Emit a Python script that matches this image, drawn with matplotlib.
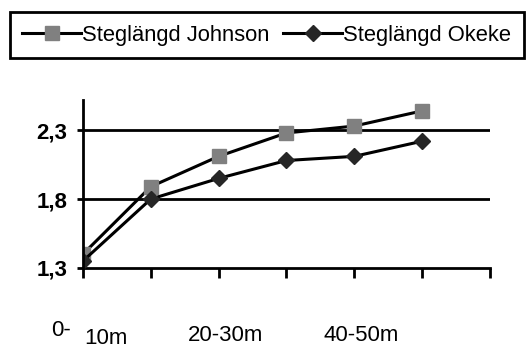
import matplotlib
matplotlib.use("Agg")
import matplotlib.pyplot as plt
import matplotlib.transforms as mtransforms

plt.rcParams['font.family'] = ['Liberation Sans', 'DejaVu Sans']

# data
positions = [0, 1, 2, 3, 4, 5]
johnson = [1.40, 1.89, 2.11, 2.28, 2.33, 2.44]
okeke = [1.35, 1.80, 1.95, 2.08, 2.11, 2.22]
y_ticks = [1.3, 1.8, 2.3]
y_labels = ['1,3', '1,8', '2,3']
x_label_pos = [2, 4]
x_labels = ['20-30m', '40-50m']
first_label = ('0-', '10m')

fig = plt.figure(figsize=(5.28, 3.48), dpi=100)
ax = fig.add_axes([0.157, 0.230, 0.771, 0.483])

ax.plot(positions, johnson, color='black', linewidth=2.2, marker='s', markersize=10.5,
        markerfacecolor='#808080', markeredgecolor='#808080', label='Steglängd Johnson', zorder=3)
ax.plot(positions, okeke, color='black', linewidth=2.2, marker='D', markersize=8.3,
        markerfacecolor='#262626', markeredgecolor='#262626', label='Steglängd Okeke', zorder=4)

for y in y_ticks[1:]:
    ax.axhline(y, color='black', linewidth=2, zorder=1)

ax.set_xlim(0, 6)
ax.set_ylim(1.3, 2.52)
ax.set_xticks(range(7))
ax.set_xticklabels([])
ax.set_yticks(y_ticks)
ax.set_yticklabels(y_labels, fontsize=16, fontweight='bold')
ax.tick_params(axis='y', length=4.3, width=2, pad=7)
ax.tick_params(axis='x', length=7, width=2, direction='out')
for s in ['top', 'right']:
    ax.spines[s].set_visible(False)
for s in ['left', 'bottom']:
    ax.spines[s].set_linewidth(2)
ax.spines['left'].set_zorder(5)

# category labels (the first one is broken in two, as in the reference)
trans = mtransforms.blended_transform_factory(ax.transData, ax.transAxes)
ax.text(-0.18, -0.37, first_label[0], transform=trans, ha='right', va='center', fontsize=16)
ax.text(0.015, -0.42, first_label[1], transform=trans, ha='left', va='center', fontsize=16)
for xp, lab in zip(x_label_pos, x_labels):
    ax.text(xp + 0.1, -0.40, lab, transform=trans, ha='center', va='center', fontsize=16)

leg = fig.legend(loc='upper center', bbox_to_anchor=(0.505, 0.965), ncol=2, fontsize=15.8,
                 frameon=True, fancybox=False, edgecolor='black', framealpha=1,
                 handlelength=2.7, handletextpad=0.05, columnspacing=0.6,
                 borderpad=0.57, borderaxespad=0)
leg.get_frame().set_linewidth(2)

fig.savefig('out.png', dpi=100)
